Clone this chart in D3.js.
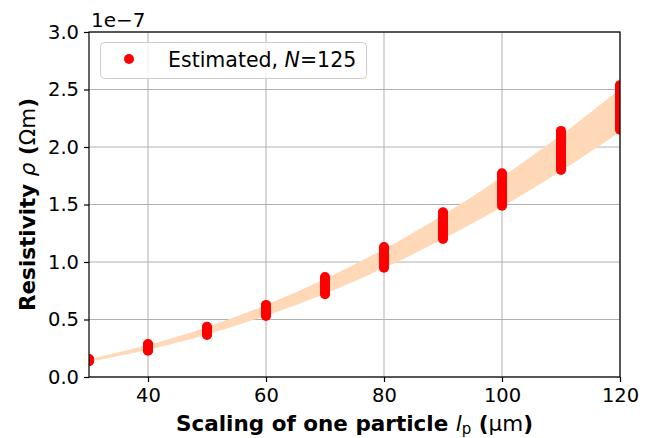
<!DOCTYPE html>
<html>
<head>
<meta charset="utf-8">
<script src="https://cdn.jsdelivr.net/npm/d3@7"></script>
<style>
  html, body { margin: 0; padding: 0; background: #fff; }
  svg { display: block; }
  text { font-family: "DejaVu Sans", sans-serif; fill: #000; }
</style>
</head>
<body>
<svg id="chart" width="654" height="438"></svg>
<script>
// Particle scaling (µm) at which resistivity was estimated
const scales = [30, 40, 50, 60, 70, 80, 90, 100, 110, 120];

// Envelope of the predicted resistivity (units of 1e-7 Ωm)
const bandLower = [0.133, 0.237, 0.370, 0.533, 0.725, 0.947, 1.199, 1.480, 1.791, 2.131];
const bandUpper = [0.157, 0.278, 0.435, 0.626, 0.852, 1.113, 1.409, 1.739, 2.104, 2.504];

// Estimated resistivity samples at each scaling (units of 1e-7 Ωm)
const estimates = [
  [0.137, 0.140, 0.143, 0.145, 0.148, 0.151, 0.154, 0.156],
  [0.228, 0.233, 0.238, 0.244, 0.249, 0.255, 0.260, 0.266, 0.271, 0.277, 0.282, 0.287],
  [0.366, 0.372, 0.379, 0.386, 0.392, 0.399, 0.405, 0.412, 0.419, 0.425, 0.431, 0.436],
  [0.530, 0.539, 0.548, 0.557, 0.566, 0.575, 0.584, 0.593, 0.602, 0.611, 0.619, 0.627],
  [0.720, 0.731, 0.743, 0.754, 0.765, 0.777, 0.788, 0.800, 0.811, 0.823, 0.834, 0.846, 0.858, 0.869],
  [0.950, 0.963, 0.976, 0.989, 1.002, 1.015, 1.028, 1.041, 1.054, 1.067, 1.080, 1.093, 1.106, 1.119, 1.131],
  [1.200, 1.215, 1.230, 1.245, 1.260, 1.275, 1.290, 1.305, 1.320, 1.335, 1.350, 1.365, 1.380, 1.395, 1.410, 1.425, 1.432],
  [1.490, 1.506, 1.522, 1.538, 1.554, 1.570, 1.586, 1.602, 1.618, 1.634, 1.650, 1.666, 1.682, 1.698, 1.714, 1.730, 1.746, 1.760, 1.771],
  [1.800, 1.817, 1.834, 1.851, 1.868, 1.885, 1.902, 1.919, 1.936, 1.953, 1.970, 1.987, 2.004, 2.021, 2.038, 2.055, 2.072, 2.089, 2.106, 2.123, 2.140],
  [2.150, 2.167, 2.184, 2.201, 2.218, 2.235, 2.252, 2.269, 2.286, 2.303, 2.320, 2.337, 2.354, 2.371, 2.388, 2.405, 2.422, 2.439, 2.456, 2.473, 2.490, 2.507, 2.524, 2.538]
];

const xTicks = [40, 60, 80, 100, 120];
const yTicks = [0.0, 0.5, 1.0, 1.5, 2.0, 2.5, 3.0];

const svg = d3.select("#chart");
const m = { left: 89, right: 620, top: 32, bottom: 377 };

const x = d3.scaleLinear().domain([30, 120]).range([m.left, m.right]);
const y = d3.scaleLinear().domain([0, 3.0]).range([m.bottom, m.top]);

svg.append("defs").append("clipPath").attr("id", "plot-clip")
  .append("rect")
  .attr("x", m.left).attr("y", m.top)
  .attr("width", m.right - m.left).attr("height", m.bottom - m.top);

// Grid
const grid = svg.append("g").attr("stroke", "#b0b0b0").attr("stroke-width", 1);
xTicks.forEach(t => grid.append("line")
  .attr("x1", x(t)).attr("x2", x(t)).attr("y1", m.top).attr("y2", m.bottom));
yTicks.forEach(t => grid.append("line")
  .attr("x1", m.left).attr("x2", m.right).attr("y1", y(t)).attr("y2", y(t)));

const plot = svg.append("g").attr("clip-path", "url(#plot-clip)");

// Predicted envelope
const bandData = scales.map((s, i) => ({ s, lo: bandLower[i], hi: bandUpper[i] }));
plot.append("path")
  .datum(bandData)
  .attr("fill", "#ffd9b7")
  .attr("d", d3.area()
    .x(d => x(d.s))
    .y0(d => y(d.lo))
    .y1(d => y(d.hi))
    .curve(d3.curveMonotoneX));

// Estimated samples
const pts = [];
scales.forEach((s, i) => estimates[i].forEach(v => pts.push({ s, v })));
plot.selectAll("circle.est")
  .data(pts)
  .join("circle")
  .attr("class", "est")
  .attr("cx", d => x(d.s))
  .attr("cy", d => y(d.v))
  .attr("r", 5)
  .attr("fill", "#ff0000");

// Axes
const xAxis = d3.axisBottom(x).tickValues(xTicks).tickSize(5).tickPadding(6)
  .tickFormat(d3.format("d"));
const yAxis = d3.axisLeft(y).tickValues(yTicks).tickSize(5).tickPadding(5)
  .tickFormat(d3.format(".1f"));

const gx = svg.append("g").attr("transform", `translate(0,${m.bottom})`).call(xAxis);
const gy = svg.append("g").attr("transform", `translate(${m.left},0)`).call(yAxis);
[gx, gy].forEach(g => {
  g.select(".domain").remove();
  g.selectAll(".tick line").attr("stroke", "#000").attr("stroke-width", 1.2);
  g.selectAll(".tick text").attr("font-size", 19.5).attr("fill", "#000")
    .style("font-family", "DejaVu Sans, sans-serif");
});

// Frame
svg.append("rect")
  .attr("x", m.left).attr("y", m.top)
  .attr("width", m.right - m.left).attr("height", m.bottom - m.top)
  .attr("fill", "none").attr("stroke", "#000").attr("stroke-width", 1.2);

// Offset text
svg.append("text").attr("x", m.left + 2).attr("y", 27)
  .attr("font-size", 20).text("1e\u22127");

// X label
const xl = svg.append("text")
  .attr("x", (m.left + m.right) / 2).attr("y", 431)
  .attr("text-anchor", "middle").attr("font-size", 21.5).attr("font-weight", "bold");
xl.append("tspan").text("Scaling of one particle ");
xl.append("tspan").attr("font-style", "italic").attr("font-weight", "normal").text("l");
xl.append("tspan").attr("font-weight", "normal").attr("font-size", 15).attr("dy", 3).text("p");
xl.append("tspan").attr("dy", -3).text(" (");
xl.append("tspan").attr("font-weight", "normal").text("\u03bcm");
xl.append("tspan").text(")");

// Y label
const yl = svg.append("text")
  .attr("transform", `translate(35,${(m.top + m.bottom) / 2}) rotate(-90)`)
  .attr("text-anchor", "middle").attr("font-size", 21.5).attr("font-weight", "bold");
yl.append("tspan").text("Resistivity ");
yl.append("tspan").attr("font-style", "italic").attr("font-weight", "normal").text("\u03c1");
yl.append("tspan").text(" (");
yl.append("tspan").attr("font-weight", "normal").text("\u03a9m");
yl.append("tspan").text(")");

// Legend
const lg = svg.append("g");
lg.append("rect")
  .attr("x", 100.5).attr("y", 42.5).attr("width", 266).attr("height", 36)
  .attr("rx", 4).attr("fill", "#fff").attr("fill-opacity", 0.8)
  .attr("stroke", "#cccccc").attr("stroke-width", 1);
lg.append("circle").attr("cx", 129).attr("cy", 59).attr("r", 5).attr("fill", "#ff0000");
const lt = lg.append("text").attr("x", 168).attr("y", 67).attr("font-size", 20.5);
lt.append("tspan").text("Estimated, ");
lt.append("tspan").attr("font-style", "italic").text("N");
lt.append("tspan").text("=125");
</script>
</body>
</html>
